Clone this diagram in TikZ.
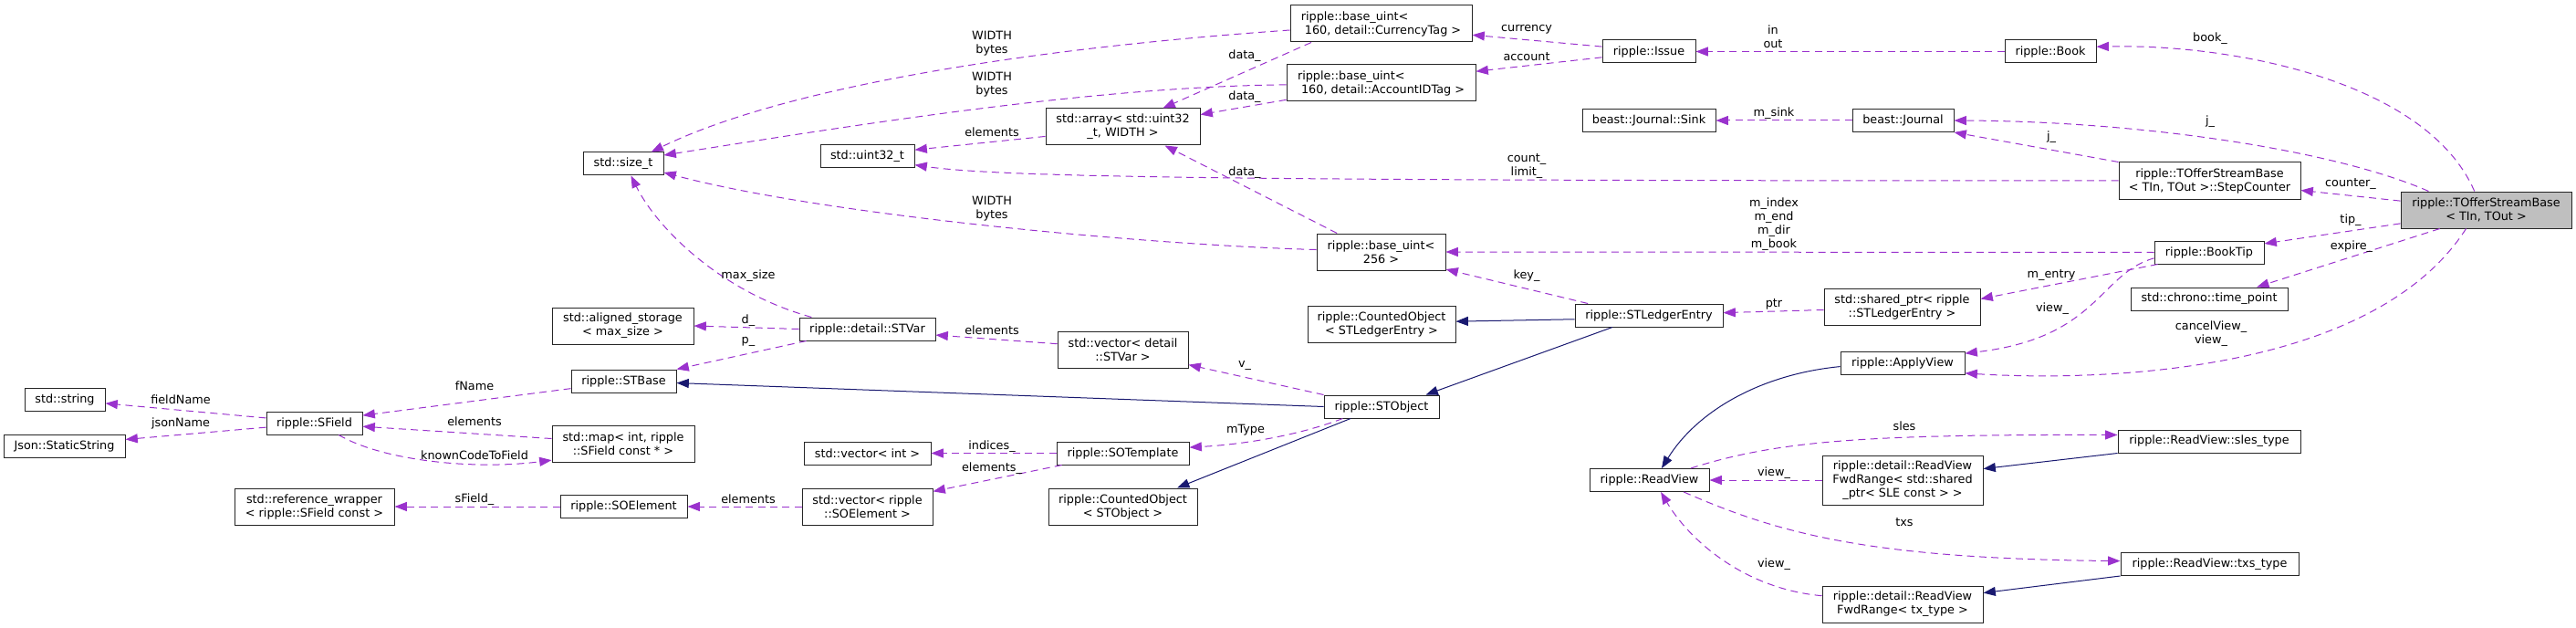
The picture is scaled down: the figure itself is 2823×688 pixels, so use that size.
\documentclass[tikz,border=0pt]{standalone}
\usepackage{fontspec}
\setmainfont{DejaVu Sans}
\usetikzlibrary{arrows.meta}
\definecolor{memcol}{HTML}{9A32CD}
\definecolor{inhcol}{HTML}{191970}
\newcommand{\dxfont}{\fontsize{9.6pt}{11.25pt}\selectfont}

\begin{document}
\begin{tikzpicture}[x=0.75pt, y=-0.75pt,
    w/.style={minimum width=#1*0.75pt},
    cls/.style={draw=black!85, line width=0.75pt, fill=white, font=\dxfont,
      align=center, inner sep=1pt, minimum height=25*0.75pt},
    cls2/.style={cls, minimum height=40*0.75pt},
    cls3/.style={cls, minimum height=54*0.75pt},
    mem/.style={draw=memcol, line width=0.75pt, dash pattern=on 6pt off 4pt,
      -{Triangle[length=10pt,width=7.5pt]}},
    inh/.style={draw=inhcol, line width=0.75pt, -{Triangle[length=10pt,width=7.5pt]}},
    lbl/.style={font=\dxfont, align=center, inner sep=0pt}]
  \useasboundingbox (0,0) rectangle (2823,688);

  % Classes
  \node[cls, w=88] (sizet) at (683,179.5) {std::size\_t};
  \node[cls, w=103] (uint) at (950.5,171.5) {std::uint32\_t};
  \node[cls2, w=155] (aligned) at (682.5,357) {std::aligned\_storage\\< max\_size >};
  \node[cls2, w=199, align=left] (curr) at (1513.5,26) {ripple::base\_uint<\\\ 160, detail::CurrencyTag >};
  \node[cls2, w=207, align=left] (acct) at (1513.5,91) {ripple::base\_uint<\\\ 160, detail::AccountIDTag >};
  \node[cls2, w=169] (arr) at (1230.5,139) {std::array< std::uint32\\\_t, WIDTH >};
  \node[cls2, w=141] (b256) at (1513.5,276) {ripple::base\_uint<\\256 >};
  \node[cls, w=102] (issue) at (1807,56.5) {ripple::Issue};
  \node[cls, w=100] (book) at (2247,56.5) {ripple::Book};
  \node[cls, w=146] (sink) at (1807,132) {beast::Journal::Sink};
  \node[cls, w=111] (journal) at (2085.5,132) {beast::Journal};
  \node[cls2, w=171] (sptr) at (2084.5,336.5) {std::shared\_ptr< ripple\\::STLedgerEntry >};
  \node[cls, w=162] (sle) at (1807,345.5) {ripple::STLedgerEntry};
  \node[cls2, w=199] (stepctr) at (2421.5,198) {ripple::TOfferStreamBase\\< TIn, TOut >::StepCounter};
  \node[cls2, w=187, fill=black!25] (toffer) at (2724.5,230) {ripple::TOfferStreamBase\\< TIn, TOut >};
  \node[cls, w=120] (booktip) at (2421,276.5) {ripple::BookTip};
  \node[cls, w=172] (tpoint) at (2421,327.5) {std::chrono::time\_point};
  \node[cls, w=88] (str) at (71,438) {std::string};
  \node[cls, w=133] (json) at (70.5,488.5) {Json::StaticString};
  \node[cls, w=105] (sfield) at (344.5,463.5) {ripple::SField};
  \node[cls2, w=175] (refwrap) at (344.5,555) {std::reference\_wrapper\\< ripple::SField const >};
  \node[cls, w=149] (stvar) at (950.5,360.5) {ripple::detail::STVar};
  \node[cls, w=115] (stbase) at (683.5,417.5) {ripple::STBase};
  \node[cls2, w=156] (smap) at (683,486) {std::map< int, ripple\\::SField const * >};
  \node[cls, w=139] (soelem) at (683.5,555) {ripple::SOElement};
  \node[cls, w=139] (vint) at (950.5,496.5) {std::vector< int >};
  \node[cls2, w=143] (vsoelem) at (950.5,555) {std::vector< ripple\\::SOElement >};
  \node[cls2, w=162] (cosle) at (1514,355) {ripple::CountedObject\\< STLedgerEntry >};
  \node[cls2, w=143] (vstvar) at (1230.5,383) {std::vector< detail\\::STVar >};
  \node[cls, w=126] (stobj) at (1514,445.5) {ripple::STObject};
  \node[cls, w=145] (sotmpl) at (1230.5,496.5) {ripple::SOTemplate};
  \node[cls2, w=163] (coobj) at (1230.5,555) {ripple::CountedObject\\< STObject >};
  \node[cls, w=136] (applyv) at (2085,398) {ripple::ApplyView};
  \node[cls, w=131] (readv) at (1807.5,526) {ripple::ReadView};
  \node[cls3, w=176] (fwdsle) at (2085,526) {ripple::detail::ReadView\\FwdRange< std::shared\\\_ptr< SLE const > >};
  \node[cls2, w=176] (fwdtx) at (2085,662) {ripple::detail::ReadView\\FwdRange< tx\_type >};
  \node[cls, w=200] (slest) at (2421,483.5) {ripple::ReadView::sles\_type};
  \node[cls, w=195] (txst) at (2421.5,618) {ripple::ReadView::txs\_type};

  % Members
  \draw[mem] (toffer.122) .. controls (2660,90) and (2450,48) .. (book.6);
  \draw[mem] (book.west) -- (issue.east);
  \draw[mem] (issue.174) -- (curr.-7);
  \draw[mem] (issue.187) -- (acct.7);
  \draw[mem] (curr.184) .. controls (1100,55) and (850,100) .. (sizet.23);
  \draw[mem] (acct.181) .. controls (1200,95) and (950,135) .. (sizet.12);
  \draw[mem] (curr.195) -- (arr.25);
  \draw[mem] (acct.190) -- (arr.9);
  \draw[mem] (arr.187) -- (uint.8);
  \draw[mem] (stepctr.west) .. controls (1400,198) and (1100,195) .. (uint.-10);
  \draw[mem] (b256.178) .. controls (1250,268) and (900,235) .. (sizet.-12);
  \draw[mem] (b256.157) -- (arr.-24);
  \draw[mem] (booktip.west) -- (b256.east);
  \draw[mem] (sle.169) -- (b256.-15);
  \draw[mem] (journal.west) -- (sink.east);
  \draw[mem] (toffer.162) .. controls (2560,165) and (2350,133) .. (journal.east);
  \draw[mem] (stepctr.north west) -- (journal.south east);
  \draw[mem] (toffer.174) -- (stepctr.-6);
  \draw[mem] (toffer.189) -- (booktip.9);
  \draw[mem] (toffer.202) -- (tpoint.14);
  \draw[mem] (toffer.223) .. controls (2600,410) and (2300,418) .. (applyv.-9);
  \draw[mem] (booktip.186) .. controls (2300,300) and (2300,370) .. (applyv.9);
  \draw[mem] (booktip.193) -- (sptr.6);
  \draw[mem] (sptr.182) -- (sle.2);
  \draw[mem] (stobj.north west) -- (vstvar.-13);
  \draw[mem] (stobj.197) .. controls (1420,478) and (1360,487) .. (sotmpl.5);
  \draw[mem] (vstvar.175) -- (stvar.-5);
  \draw[mem] (stvar.168) .. controls (790,320) and (720,250) .. (sizet.-57);
  \draw[mem] (stvar.west) -- (aligned.east);
  \draw[mem] (stvar.191) -- (stbase.north east);
  \draw[mem] (stbase.188) -- (sfield.9);
  \draw[mem] (smap.176) -- (sfield.-4);
  \draw[mem] (sfield.-26) .. controls (420,505) and (520,515) .. (smap.193);
  \draw[mem] (sfield.174) -- (str.-5);
  \draw[mem] (sfield.185) -- (json.6);
  \draw[mem] (sotmpl.west) -- (vint.east);
  \draw[mem] (sotmpl.191) -- (vsoelem.13);
  \draw[mem] (vsoelem.west) -- (soelem.east);
  \draw[mem] (soelem.west) -- (refwrap.east);
  \draw[mem] (fwdsle.west) -- (readv.east);
  \draw[mem] (fwdtx.174) .. controls (1910,645) and (1850,590) .. (readv.-46);
  \draw[mem] (readv.16) .. controls (1950,482) and (2050,476) .. (slest.176);
  \draw[mem] (readv.-19) .. controls (1950,585) and (2050,612) .. (txst.178);

  % Inheritance
  \draw[inh] (sle.183) -- (cosle.2);
  \draw[inh] (sle.198) -- (stobj.15);
  \draw[inh] (stobj.west) -- (stbase.-2);
  \draw[inh] (stobj.201) -- (coobj.19);
  \draw[inh] (applyv.183) .. controls (1930,410) and (1860,450) .. (readv.44);
  \draw[inh] (slest.south west) -- (fwdsle.8);
  \draw[inh] (txst.south west) -- (fwdtx.8);

  % Edge labels
  \node[lbl] (lbook) at (2422,42) {book\_};
  \node[lbl] (linout) at (1943,40.5) {in\\out};
  \node[lbl] (lcurr) at (1673,32.7) {currency};
  \node[lbl] (lacct) at (1673,61.7) {account};
  \node[lbl] (lwa) at (1087,47.5) {WIDTH\\bytes};
  \node[lbl] (lwb) at (1087,92.5) {WIDTH\\bytes};
  \node[lbl] (lwc) at (1087,229) {WIDTH\\bytes};
  \node[lbl] (lelema) at (1087,144.3) {elements};
  \node[lbl] (ldataa) at (1364,60.7) {data\_};
  \node[lbl] (ldatab) at (1364,105.7) {data\_};
  \node[lbl] (ldatac) at (1364,188.7) {data\_};
  \node[lbl] (lcount) at (1673,182) {count\_\\limit\_};
  \node[lbl] (lkey) at (1673,301.7) {key\_};
  \node[lbl] (lbooktip) at (1944,246) {m\_index\\m\_end\\m\_dir\\m\_book};
  \node[lbl] (lsink) at (1944,124) {m\_sink};
  \node[lbl] (ljstep) at (2248,150) {j\_};
  \node[lbl] (ljoff) at (2422,133) {j\_};
  \node[lbl] (lcounter) at (2576,202) {counter\_};
  \node[lbl] (ltip) at (2576,241) {tip\_};
  \node[lbl] (lexpire) at (2577,270) {expire\_};
  \node[lbl] (lmentry) at (2248,302) {m\_entry};
  \node[lbl] (lviewtip) at (2249,338) {view\_};
  \node[lbl] (lptr) at (1944,333) {ptr};
  \node[lbl] (lcancel) at (2423,366) {cancelView\_\\view\_};
  \node[lbl] (lsles) at (2087,466.7) {sles};
  \node[lbl] (lviewsle) at (1944,517.7) {view\_};
  \node[lbl] (ltxs) at (2087,572.3) {txs};
  \node[lbl] (lviewtx) at (1944,617.7) {view\_};
  \node[lbl] (lv) at (1364,401) {v\_};
  \node[lbl] (lmtype) at (1365,470.7) {mType};
  \node[lbl] (lelemb) at (1087,361.7) {elements};
  \node[lbl] (lmaxsize) at (820,301.7) {max\_size};
  \node[lbl] (ld) at (820,351) {d\_};
  \node[lbl] (lp) at (820,374.3) {p\_};
  \node[lbl] (lfname) at (520,422.3) {fName};
  \node[lbl] (lelemc) at (520,461.7) {elements};
  \node[lbl] (lknown) at (520,498.3) {knownCodeToField};
  \node[lbl] (lfieldname) at (198,437.3) {fieldName};
  \node[lbl] (ljsonname) at (198,464.3) {jsonName};
  \node[lbl] (lsfield) at (520,546.7) {sField\_};
  \node[lbl] (lelemd) at (820,546.7) {elements};
  \node[lbl] (lindices) at (1087,489) {indices\_};
  \node[lbl] (lelements) at (1087,512.7) {elements\_};
\end{tikzpicture}
\end{document}
